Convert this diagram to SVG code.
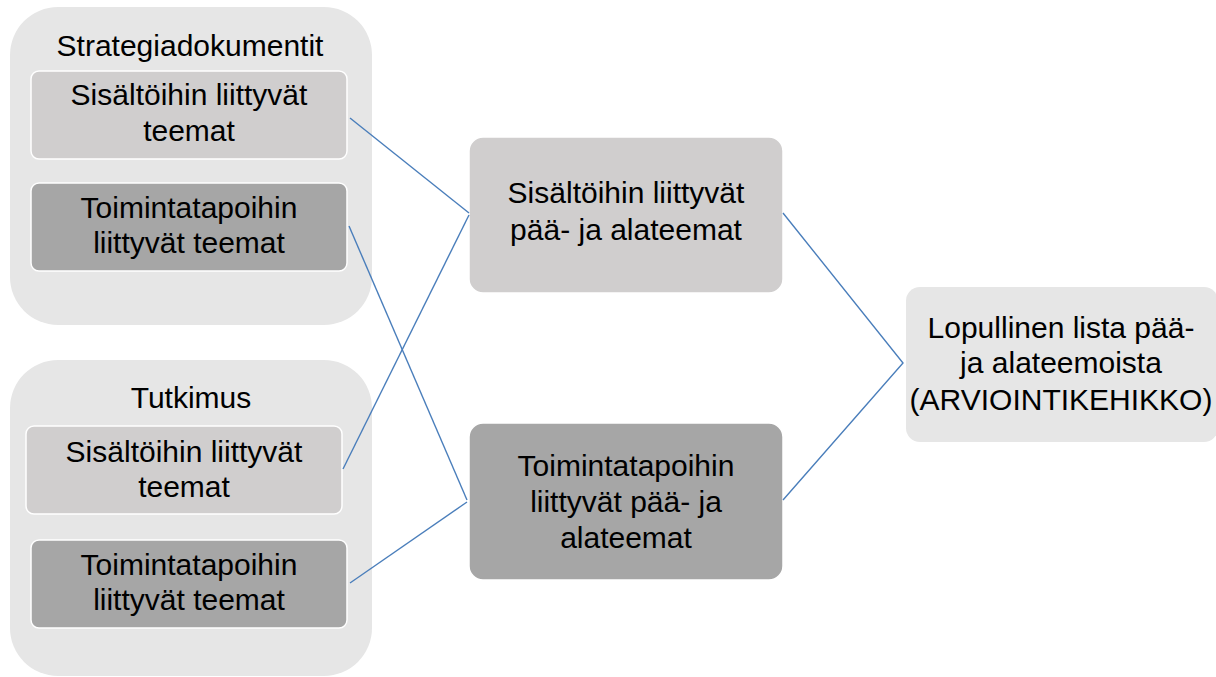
<svg xmlns="http://www.w3.org/2000/svg" width="1216" height="677" viewBox="0 0 1216 677">
<style>
.outer{fill:#e6e6e6;}
.light{fill:#d0cece;stroke:#ffffff;stroke-width:1.5;}
.dark{fill:#a6a6a6;stroke:#ffffff;stroke-width:1.5;}
.final{fill:#e6e6e6;}
text{font-family:"Liberation Sans",Arial,sans-serif;font-size:30px;fill:#000;text-anchor:middle;}
.conn{stroke:#4a7ebb;stroke-width:1.4;fill:none;}
</style>
<rect width="1216" height="677" fill="#ffffff"/>
<g id="strategiadokumentit">
<rect class="outer" x="10" y="7" width="362" height="318" rx="48"/>
<text x="190" y="56">Strategiadokumentit</text>
</g>
<g id="sd-sisalto">
<rect class="light" x="31" y="71" width="316" height="88" rx="8"/>
<text x="189" y="105">Sisältöihin liittyvät</text>
<text x="189" y="141">teemat</text>
</g>
<g id="sd-toiminta">
<rect class="dark" x="31" y="183" width="316" height="88" rx="8"/>
<text x="189" y="218">Toimintatapoihin</text>
<text x="189" y="253">liittyvät teemat</text>
</g>
<g id="tutkimus">
<rect class="outer" x="10" y="360" width="362" height="316" rx="48"/>
<text x="191" y="408">Tutkimus</text>
</g>
<g id="tk-sisalto">
<rect class="light" x="26" y="426" width="316" height="88" rx="8"/>
<text x="184" y="462">Sisältöihin liittyvät</text>
<text x="184" y="497">teemat</text>
</g>
<g id="tk-toiminta">
<rect class="dark" x="31" y="540" width="316" height="88" rx="8"/>
<text x="189" y="575">Toimintatapoihin</text>
<text x="189" y="610">liittyvät teemat</text>
</g>
<g id="sisalto-paa">
<rect class="light" x="469" y="137" width="314" height="156" rx="14" stroke="none"/>
<text x="626" y="203">Sisältöihin liittyvät</text>
<text x="626" y="240">pää- ja alateemat</text>
</g>
<g id="toiminta-paa">
<rect class="dark" x="469" y="423" width="314" height="157" rx="14" stroke="none"/>
<text x="626" y="476">Toimintatapoihin</text>
<text x="626" y="512">liittyvät pää- ja</text>
<text x="626" y="548">alateemat</text>
</g>
<g id="lopullinen">
<rect class="final" x="906" y="287" width="312" height="155" rx="14"/>
<text x="1061" y="338">Lopullinen lista pää-</text>
<text x="1061" y="373">ja alateemoista</text>
<text x="1061" y="410">(ARVIOINTIKEHIKKO)</text>
</g>
<g id="connectors">
<line class="conn" x1="350" y1="118" x2="469" y2="213"/>
<line class="conn" x1="349" y1="226" x2="467" y2="500"/>
<line class="conn" x1="343" y1="469" x2="469" y2="215"/>
<line class="conn" x1="350" y1="583" x2="467" y2="502"/>
<polyline class="conn" points="783,213 903,363 783,500"/>
</g>
</svg>
